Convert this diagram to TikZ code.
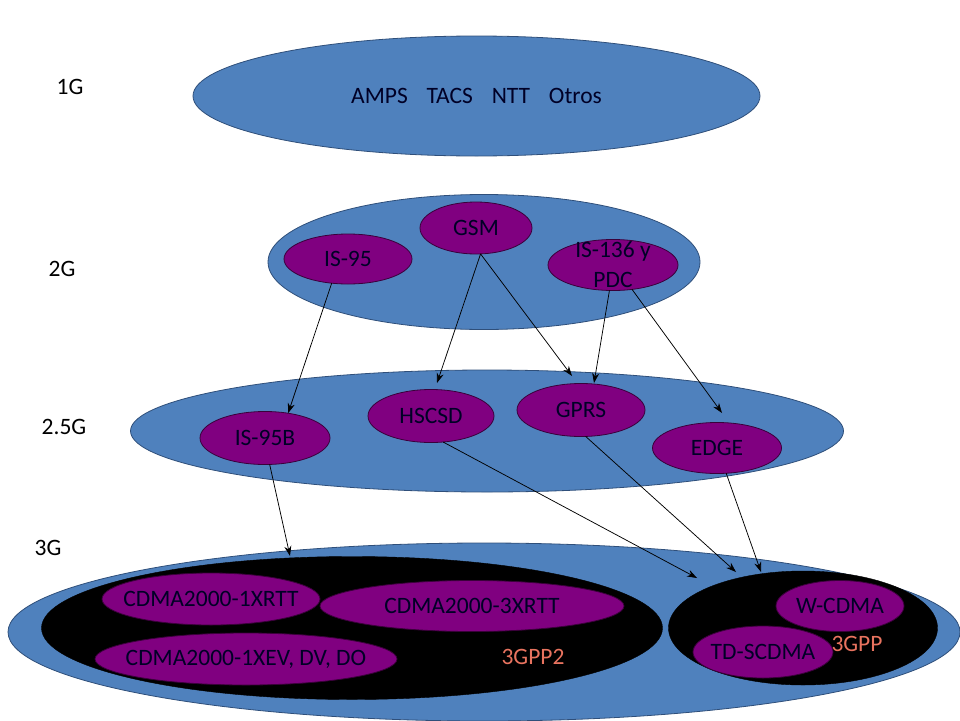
\documentclass[tikz,border=0pt]{standalone}
\usepackage{fontspec}
\setmainfont{Carlito}
\usetikzlibrary{shapes.geometric,arrows.meta}
\definecolor{obl}{HTML}{4F81BD}
\definecolor{oblb}{HTML}{2F4F7A}
\definecolor{opu}{HTML}{800080}
\definecolor{salm}{HTML}{E8735F}
\tikzset{
  gen/.style={ellipse, draw=oblb, fill=obl, line width=0.8pt, inner sep=0pt, outer sep=0pt},
  grp/.style={ellipse, draw=black, fill=black, inner sep=0pt, outer sep=0pt},
  tech/.style={ellipse, draw=opu!45!black, fill=opu, line width=0.8pt, inner sep=0pt, outer sep=0pt},
  txt/.style={font=\fontsize{23.5}{30}\selectfont, text=black!85!blue, inner sep=0pt, align=center},
  lvl/.style={font=\fontsize{23.5}{28}\selectfont, inner sep=0pt},
  grpl/.style={font=\fontsize{23.5}{28}\selectfont, text=salm, inner sep=0pt},
  conn/.style={-{Stealth[length=10pt,width=7pt]}, line width=0.75pt}
}
\begin{document}
\begin{tikzpicture}[x=1pt,y=-1pt]
\useasboundingbox (0,0) rectangle (960,720);
% level labels
\node[lvl] (l1) at (70,87) {1G};
\node[lvl] (l2) at (62,269) {2G};
\node[lvl] (l25) at (64,427) {2.5G};
\node[lvl] (l3) at (48,548) {3G};
% 1G
\node[gen, minimum width=567pt, minimum height=120pt, label={[txt]center:AMPS\hspace{0.8em}TACS\hspace{0.8em}NTT\hspace{0.8em}Otros}] (g1) at (476.5,96) {};
% 2G
\node[gen, minimum width=432pt, minimum height=135pt] (g2) at (484,262) {};
\node[tech, minimum width=112pt, minimum height=52pt, label={[txt]center:GSM}] (gsm) at (476,228) {};
\node[tech, minimum width=128pt, minimum height=50pt, label={[txt]center:IS-95}] (is95) at (348,259) {};
\node[tech, minimum width=130pt, minimum height=51pt, label={[txt]center:IS-136 y\\PDC}] (is136) at (613,265) {};
% 2.5G
\node[gen, minimum width=713pt, minimum height=122pt] (g25) at (487,431) {};
\node[tech, minimum width=130pt, minimum height=53pt, label={[txt]center:IS-95B}] (is95b) at (265,438) {};
\node[tech, minimum width=126pt, minimum height=53pt, label={[txt]center:HSCSD}] (hscsd) at (431,416) {};
\node[tech, minimum width=128pt, minimum height=53pt, label={[txt]center:GPRS}] (gprs) at (581,410) {};
\node[tech, minimum width=129pt, minimum height=51pt, label={[txt]center:EDGE}] (edge) at (717,448) {};
% 3G
\node[gen, minimum width=952pt, minimum height=178pt] (g3) at (484,632) {};
\node[grp, minimum width=621pt, minimum height=143pt] (gpp2) at (352,628) {};
\node[grp, minimum width=269pt, minimum height=114pt] (gpp) at (803,628) {};
\node[tech, minimum width=218pt, minimum height=52pt, label={[txt]center:CDMA2000-1XRTT}] (c1x) at (211,599) {};
\node[tech, minimum width=304pt, minimum height=51pt, label={[txt]center:CDMA2000-3XRTT}] (c3x) at (472,606) {};
\node[tech, minimum width=302pt, minimum height=52pt, label={[txt]center:CDMA2000-1XEV, DV, DO}] (cev) at (246,659) {};
\node[grpl] (l3gpp2) at (533,657) {3GPP2};
\node[tech, minimum width=128pt, minimum height=51pt, label={[txt]center:W-CDMA}] (wcdma) at (840,606) {};
\node[grpl] (l3gpp) at (857,644) {3GPP};
\node[tech, minimum width=140pt, minimum height=52pt, label={[txt]center:TD-SCDMA}] (tds) at (763,652) {};
% arrow end points
\coordinate (tHSCSD) at (437,383);
\coordinate (tGPRSa) at (572,376);
\coordinate (tGPRSb) at (594,383);
\coordinate (tEDGE) at (722,413);
\coordinate (t3a) at (290,556);
\coordinate (t3b) at (697,578);
\coordinate (t3c) at (736,572);
\coordinate (t3d) at (761,572);
% connectors
\draw[conn] (is95.-124) -- (is95b.47);
\draw[conn] (gsm.-80) -- (tHSCSD);
\draw[conn] (gsm.-80) -- (tGPRSa);
\draw[conn] (is136.-98) -- (tGPRSb);
\draw[conn] (is136.-52) -- (tEDGE);
\draw[conn] (is95b.-80) -- (t3a);
\draw[conn] (hscsd.-65) -- (t3b);
\draw[conn] (gprs.-80) -- (t3c);
\draw[conn] (edge.-70) -- (t3d);
\end{tikzpicture}
\end{document}
